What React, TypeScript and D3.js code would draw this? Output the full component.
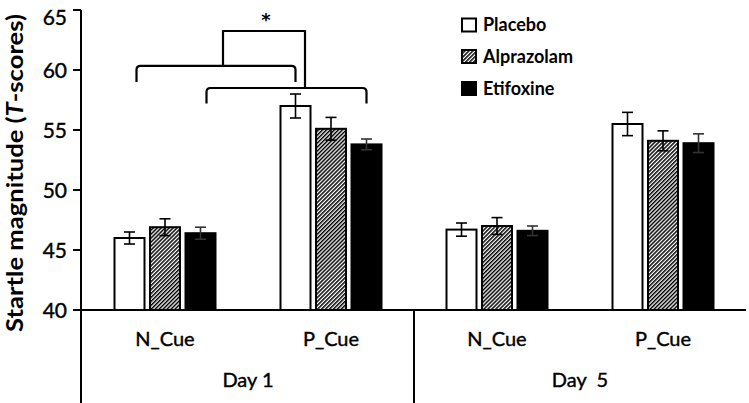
import React, { useEffect } from "react";
import * as d3 from "d3";

// data
const days = ["Day 1", "Day  5"];
const cues = ["N_Cue", "P_Cue"];
const series = ["Placebo", "Alprazolam", "Etifoxine"];
// means per category (Day1 N, Day1 P, Day5 N, Day5 P)
const placebo = [46.0, 57.0, 46.7, 55.5];
const alprazolam = [46.9, 55.1, 47.0, 54.1];
const etifoxine = [46.4, 53.8, 46.6, 53.9];
// standard errors
const placeboErr = [0.5, 1.0, 0.55, 0.97];
const alprazolamErr = [0.7, 0.95, 0.7, 0.83];
const etifoxineErr = [0.5, 0.45, 0.4, 0.78];
const yTicks = [40, 45, 50, 55, 60, 65];

const W = 749;
const H = 403;
const FONT = "Lato, 'Open Sans', sans-serif";

export default function App() {
  useEffect(() => {
    document.body.style.margin = "0";
  }, []);

  const cats = days.flatMap((d) => cues.map((c) => `${d}|${c}`));
  const values = [placebo, alprazolam, etifoxine];
  const errors = [placeboErr, alprazolamErr, etifoxineErr];

  const x0 = d3.scaleBand().domain(cats).range([82, 746]).padding(0);
  const x1 = d3.scaleBand().domain(series).range([0, 101]).paddingInner(0.155);
  const y = d3.scaleLinear().domain([40, 65]).range([310, 10]);

  const groupStart = (c: string) => (x0(c) || 0) + x0.bandwidth() / 2 - 50.5;
  const barX = (c: string, s: string) => groupStart(c) + (x1(s) || 0);
  const barMid = (c: string, s: string) => barX(c, s) + x1.bandwidth() / 2;
  const catMid = (c: string) => (x0(c) || 0) + x0.bandwidth() / 2;

  const fills = ["#fff", "url(#hatch)", "#000"];

  // significance brackets
  const b1 = { x1: barMid(cats[0], "Placebo") + 7, x2: barMid(cats[1], "Placebo"), yh: 60.35, ye: 59.0 };
  const b2 = { x1: barMid(cats[0], "Etifoxine") + 6, x2: barMid(cats[1], "Etifoxine"), yh: 58.5, ye: 57.2 };
  const topL = catMid(cats[0]) + 58;
  const topR = catMid(cats[1]) - 26;
  const topY = 63.25;

  const bracket = (b: { x1: number; x2: number; yh: number; ye: number }) => {
    const r = 4;
    const yh = y(b.yh);
    const ye = y(b.ye);
    return `M${b.x1},${ye} L${b.x1},${yh + r} Q${b.x1},${yh} ${b.x1 + r},${yh} L${b.x2 - r},${yh} Q${b.x2},${yh} ${b.x2},${yh + r} L${b.x2},${ye}`;
  };

  const legendY = [25, 56.5, 88.5];

  return (
    <svg width={W} height={H} style={{ display: "block", background: "#fff" }} fontFamily={FONT}>
      <defs>
        <pattern id="hatch" patternUnits="userSpaceOnUse" width="2.8" height="2.8" patternTransform="rotate(45)">
          <rect x="0" y="0" width="2.8" height="2.8" fill="#fff" />
          <rect x="0" y="0" width="1.5" height="2.8" fill="#000" />
        </pattern>
      </defs>

      {/* bars */}
      {cats.map((c, ci) =>
        series.map((s, si) => {
          const v = values[si][ci];
          return (
            <rect
              key={c + s}
              x={barX(c, s)}
              y={y(v)}
              width={x1.bandwidth()}
              height={y(40) - y(v)}
              fill={fills[si]}
              stroke="#000"
              strokeWidth={2}
            />
          );
        })
      )}

      {/* error bars */}
      {cats.map((c, ci) =>
        series.map((s, si) => {
          const v = values[si][ci];
          const e = errors[si][ci];
          const cx = barMid(c, s);
          const stroke = si === 2 ? "#333" : "#000";
          return (
            <g key={"e" + c + s} stroke={stroke} strokeWidth={1.6}>
              <line x1={cx} x2={cx} y1={y(v - e)} y2={y(v + e)} />
              <line x1={cx - 5.5} x2={cx + 5.5} y1={y(v + e)} y2={y(v + e)} />
              <line x1={cx - 5.5} x2={cx + 5.5} y1={y(v - e)} y2={y(v - e)} />
            </g>
          );
        })
      )}

      {/* y axis */}
      <line x1={81} x2={81} y1={y(65)} y2={H} stroke="#000" strokeWidth={2} />
      {yTicks.map((t) => (
        <g key={t}>
          <line x1={73} x2={81} y1={y(t)} y2={y(t)} stroke="#000" strokeWidth={2} />
          <text
            x={67}
            y={Math.max(y(t), 17)}
            dy="0.36em"
            textAnchor="end"
            fontSize={21}
            fill="#000"
            stroke="#000"
            strokeWidth={0.4}
          >
            {t}
          </text>
        </g>
      ))}
      <text
        transform="translate(23,173) rotate(-90)"
        textAnchor="middle"
        fontSize={22}
        fontWeight="bold"
        fill="#000"
        textLength={318}
        lengthAdjust="spacingAndGlyphs"
      >
        Startle magnitude (<tspan fontStyle="italic">T</tspan>-scores)
      </text>

      {/* category axis */}
      <line x1={81} x2={746} y1={y(40)} y2={y(40)} stroke="#000" strokeWidth={2} />
      <line x1={x0(cats[2])} x2={x0(cats[2])} y1={y(40)} y2={H} stroke="#000" strokeWidth={2} />
      {cats.map((c) => (
        <text
          key={"l" + c}
          x={catMid(c)}
          y={346}
          textAnchor="middle"
          fontSize={20}
          fill="#000"
          stroke="#000"
          strokeWidth={0.4}
        >
          {c.split("|")[1]}
        </text>
      ))}
      {days.map((d, di) => {
        const a = x0(cats[di * 2]) || 0;
        const b = (x0(cats[di * 2 + 1]) || 0) + x0.bandwidth();
        return (
          <text
            key={d}
            x={(a + b) / 2}
            y={387}
            textAnchor="middle"
            fontSize={20}
            fill="#000"
            stroke="#000"
            strokeWidth={0.4}
            style={{ whiteSpace: "pre" }}
          >
            {d}
          </text>
        );
      })}

      {/* significance */}
      <g fill="none" stroke="#000" strokeWidth={2.2}>
        <path d={bracket(b1)} />
        <path d={bracket(b2)} />
        <path d={`M${topL},${y(b1.yh)} L${topL},${y(topY)} L${topR},${y(topY)} L${topR},${y(b2.yh)}`} />
      </g>
      <text
        x={(topL + topR) / 2 + 2}
        y={y(topY) - 5}
        textAnchor="middle"
        fontSize={18}
        fontWeight="bold"
        fill="#000"
        fontFamily="'DejaVu Sans', sans-serif"
      >
        *
      </text>

      {/* legend */}
      {series.map((s, i) => (
        <g key={"lg" + s}>
          <rect x={462} y={legendY[i] - 6.5} width={14} height={13} fill={fills[i]} stroke="#000" strokeWidth={2} />
          <text x={483} y={legendY[i]} dy="0.36em" fontSize={18} fontWeight="bold" fill="#000">
            {s}
          </text>
        </g>
      ))}
    </svg>
  );
}
